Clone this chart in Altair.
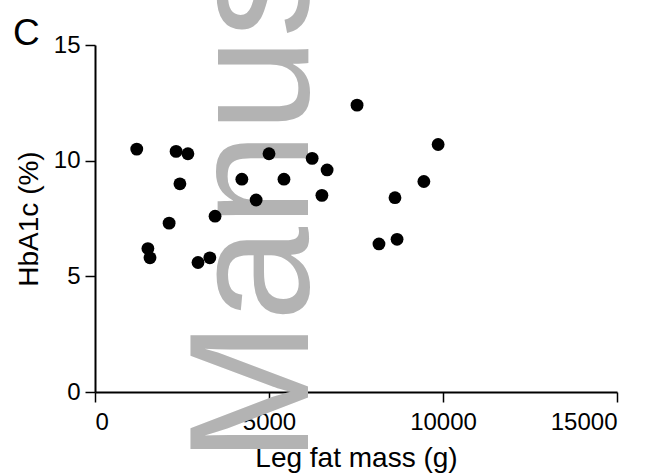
import altair as alt
import pandas as pd

# Leg fat mass (g) and HbA1c (%)
leg_fat_mass = [1200, 2330, 2670, 2440, 2130, 1520, 1580, 2960, 3300, 3450,
                4220, 4630, 5000, 5430, 6240, 6670, 6520, 7530, 8160, 8620,
                8680, 9450, 9860]
hba1c = [10.5, 10.4, 10.3, 9.0, 7.3, 6.2, 5.8, 5.6, 5.8, 7.6,
         9.2, 8.3, 10.3, 9.2, 10.1, 9.6, 8.5, 12.4, 6.4, 8.4,
         6.6, 9.1, 10.7]

x_ticks = [0, 5000, 10000, 15000]
y_ticks = [0, 5, 10, 15]

panel_label = ["C"]
watermark_text = ["Manus"]

FONT = "Liberation Sans"

df = pd.DataFrame({"mass": leg_fat_mass, "hba1c": hba1c})

watermark = alt.Chart(pd.DataFrame({"t": watermark_text})).mark_text(
    angle=270, align="left", baseline="alphabetic", fontSize=170,
    font=FONT, color="#b3b3b3"
).encode(
    x=alt.value(213), y=alt.value(418), text="t:N"
)

points = alt.Chart(df).mark_circle(size=165, color="black", opacity=1).encode(
    x=alt.X("mass:Q", title="Leg fat mass (g)",
            scale=alt.Scale(domain=[0, 15000], nice=False, zero=False),
            axis=alt.Axis(values=x_ticks, format="d", labelPadding=8,
                          titlePadding=10)),
    y=alt.Y("hba1c:Q", title="HbA1c (%)",
            scale=alt.Scale(domain=[0, 15], nice=False, zero=False),
            axis=alt.Axis(values=y_ticks, format="d", labelPadding=5,
                          titlePadding=10)),
)

label = alt.Chart(pd.DataFrame({"t": panel_label})).mark_text(
    align="left", baseline="alphabetic", fontSize=37, font=FONT, color="black"
).encode(
    x=alt.value(-82), y=alt.value(0), text="t:N"
)

chart = alt.layer(watermark, points, label).properties(
    width=522, height=347,
    autosize=alt.AutoSizeParams(type="none"),
    padding={"left": 95, "top": 45, "right": 41, "bottom": 84},
    background="white",
).configure_view(stroke=None).configure_axis(
    grid=False,
    domainColor="black", domainWidth=2,
    tickColor="black", tickWidth=1.5, tickSize=10,
    labelFont=FONT, labelFontSize=24, labelColor="black",
    titleFont=FONT, titleFontSize=28, titleColor="black",
    titleFontWeight="normal",
)

chart.save("out.html", embed_options={"renderer": "svg", "actions": False})
